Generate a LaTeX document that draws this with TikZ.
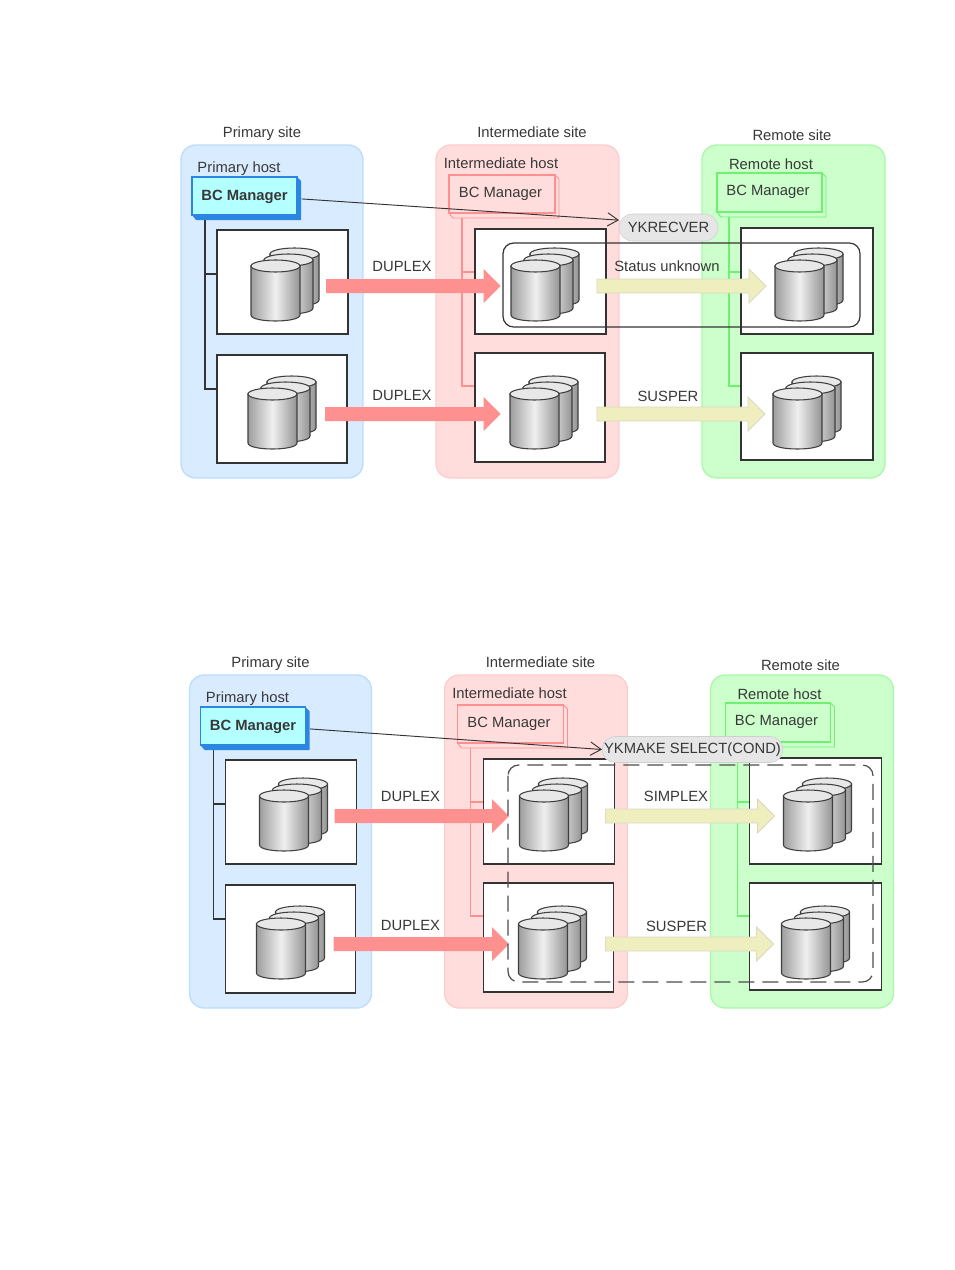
\documentclass[tikz,border=0pt]{standalone}
\usepackage{fontspec}
\setmainfont{Liberation Sans}
\usetikzlibrary{calc,arrows.meta,shapes.misc}
\definecolor{inkc}{HTML}{383838}
\definecolor{linec}{HTML}{333333}
\definecolor{bluefill}{HTML}{D9EBFF}
\definecolor{blueedge}{HTML}{BBDDFF}
\definecolor{redfill}{HTML}{FFDDDD}
\definecolor{rededge}{HTML}{FFCCCC}
\definecolor{greenfill}{HTML}{CCFFCC}
\definecolor{greenedge}{HTML}{AAF8AA}
\definecolor{redline}{HTML}{FF9090}
\definecolor{greenline}{HTML}{70F070}
\definecolor{cyanfill}{HTML}{B4FFFF}
\definecolor{bluebc}{HTML}{2A86E0}
\definecolor{arrowred}{HTML}{FF9090}
\definecolor{arrowyel}{HTML}{EEEEBE}
\definecolor{arrowyeledge}{HTML}{D9D9C4}
\definecolor{pillfill}{HTML}{E6E6E6}
\tikzset{
  x=0.75pt,y=-0.75pt,
  txt/.style={font=\fontsize{11.1}{13}\selectfont,text=inkc,inner sep=0pt},
  boldtxt/.style={txt,font=\fontsize{11.1}{13}\selectfont\bfseries},
  region/.style={rounded corners=11pt,line width=1pt,inner sep=0pt,outer sep=0pt},
  hostbox/.style={draw=linec,fill=white,line width=0.9pt,inner sep=0pt,outer sep=0pt},
  bcfront/.style={inner sep=0pt,outer sep=0pt,line width=0.9pt},
  redarrow/.style={fill=arrowred},
  yelarrow/.style={fill=arrowyel,draw=arrowyeledge,line width=0.6pt},
  pillnode/.style={rounded rectangle,fill=pillfill,draw=pillfill!90!black,line width=0.4pt,inner sep=0pt,outer sep=0pt,text=inkc,font=\fontsize{11.1}{13}\selectfont},
  cylside/.style={draw=black!75,line width=0.8pt,left color=black!38,right color=black!42,middle color=black!6},
  cyltop/.style={draw=black!75,line width=0.8pt,fill=black!9},
  callline/.style={draw=linec,line width=0.7pt,-{Straight Barb[length=8pt,width=10pt]}},
}
% name x0 y0 x1 y1 style
\newcommand{\rectnode}[6]{\node[#6,minimum width={(#4-#2)*0.75pt},minimum height={(#5-#3)*0.75pt}] (#1) at ({(#2+#4)/2},{(#3+#5)/2}) {};}
% x0 ytop ybot width
\newcommand{\onecyl}[4]{%
  \path[cylside] (#1,#2) -- (#1,#3) .. controls (#1,#3+8) and (#1+#4,#3+8) .. (#1+#4,#3) -- (#1+#4,#2) -- cycle;
  \path[cyltop] ({#1+#4/2},#2) ellipse [x radius=#4/2,y radius=6];}
% x0 ytop of the front cylinder
\newcommand{\cylstack}[2]{%
  \onecyl{#1+19}{#2-6}{#2+40}{49}
  \onecyl{#1+13}{#2}{#2+48}{49}
  \onecyl{#1}{#2+6}{#2+55}{49}}
% name x0 y0 x1 y1 depthstyle frontstyle
\newcommand{\bcbox}[7]{%
  \path[#6] (#2,#5) -- (#2+4,#5+5) -- (#4+4,#5+5) -- (#4+4,#3+4) -- (#4,#3) -- cycle;
  \rectnode{#1}{#2}{#3}{#4}{#5}{bcfront,#7}}
% name-prefix x0 x1 y style
\newcommand{\blockarrow}[5]{%
  \coordinate (#1s) at (#2,#4);
  \coordinate (#1e) at (#3,#4);
  \path[#5] ($(#1s)+(0,-7)$) -- ($(#1e)+(-17,-7)$) -- ($(#1e)+(-17,-17)$) -- (#1e)
     -- ($(#1e)+(-17,17)$) -- ($(#1e)+(-17,7)$) -- ($(#1s)+(0,7)$) -- cycle;}
% common part of both panels
\newcommand{\panel}[1]{%
  \rectnode{#1rp}{181}{145}{363}{478}{region,fill=bluefill,draw=blueedge}
  \rectnode{#1ri}{436}{145}{619}{478}{region,fill=redfill,draw=rededge}
  \rectnode{#1rr}{702}{145}{885}{478}{region,fill=greenfill,draw=greenedge}
  \node[txt] (#1lp) at (262,133.5) {Primary site};
  \node[txt] (#1li) at (532,132) {Intermediate site};
  \node[txt] (#1lr) at (792,135) {Remote site};
  \node[txt] (#1hp) at (239,168.5) {Primary host};
  \node[txt] (#1hi) at (501,163) {Intermediate host};
  \node[txt] (#1hr) at (771,164) {Remote host};
  % tree anchors
  \coordinate (#1tp) at (205,216);
  \coordinate (#1tp1) at (217,274);
  \coordinate (#1tp2) at (217,389);
  \coordinate (#1ti) at (462,216);
  \coordinate (#1ti1) at (475,272);
  \coordinate (#1ti2) at (475,386);
  \coordinate (#1tr) at (729,215);
  \coordinate (#1tr1) at (741,272);
  \coordinate (#1tr2) at (741,386);
  \draw[linec,line width=0.8pt] (#1tp) |- (#1tp1) (#1tp) |- (#1tp2);
  \draw[redline,line width=0.8pt] (#1ti) |- (#1ti1) (#1ti) |- (#1ti2);
  \draw[greenline,line width=0.8pt] (#1tr) |- (#1tr1) (#1tr) |- (#1tr2);
  % BC Manager
  \bcbox{#1bp}{192}{177}{297}{215}{fill=bluebc}{fill=cyanfill,draw=bluebc}
  \node[boldtxt] at ([yshift=-0.6pt]#1bp) {BC Manager};
  \bcbox{#1bi}{449}{175}{555}{213}{draw=redline,line width=0.7pt,fill=redfill}{draw=redline,fill=redfill}
  \bcbox{#1br}{717}{173}{822}{212}{draw=greenline,line width=0.7pt,fill=greenfill}{draw=greenline,fill=greenfill}
  \node[txt] (#1tbi) at (500.5,193.5) {BC Manager};
  \node[txt] (#1tbr) at (768,192) {BC Manager};
  % storage boxes
  \rectnode{#1s1}{217}{230}{348}{334}{hostbox}
  \rectnode{#1s2}{217}{355}{347}{463}{hostbox}
  \rectnode{#1s3}{475}{229}{606}{334}{hostbox}
  \rectnode{#1s4}{475}{353}{605}{462}{hostbox}
  \rectnode{#1s5}{741}{228}{873}{334}{hostbox}
  \rectnode{#1s6}{741}{353}{873}{460}{hostbox}
  \cylstack{251}{260}
  \cylstack{248}{388}
  \cylstack{511}{260}
  \cylstack{510}{388}
  \cylstack{775}{260}
  \cylstack{773}{388}
  % pair arrows
  \blockarrow{#1a1}{326}{500.5}{286}{redarrow}
  \blockarrow{#1a2}{325}{500.5}{414}{redarrow}
  \blockarrow{#1a3}{597}{766}{286}{yelarrow}
  \blockarrow{#1a4}{597}{765}{414}{yelarrow}
  \node[txt] (#1d1) at (402,266) {DUPLEX};
  \node[txt] (#1d2) at (402,395) {DUPLEX};
  \node[txt] (#1d4) at (668,396) {SUSPER};
}
\begin{document}
\begin{tikzpicture}
\useasboundingbox (0,0) rectangle (954,1270);
\fill[white] (0,0) rectangle (954,1270);
\panel{u}
\node[txt] (ustat) at (667,266) {Status unknown};
\draw[linec,line width=0.9pt,rounded corners=8pt] (503,243) rectangle (860,327);
\node[pillnode,minimum width=99*0.75pt,minimum height=27*0.75pt] (upill) at (668.5,227.5) {YKRECVER};
\draw[callline] ([xshift=3.5pt,yshift=-2.2pt]ubp.east) -- ([yshift=5.5pt]upill.west);
\begin{scope}[shift={(8.5,530)}]
\panel{v}
\node[txt] (vstat) at (667.5,266) {SIMPLEX};
\node[pillnode,minimum width=181*0.75pt,minimum height=26*0.75pt] (vpill) at (684,219.5) {YKMAKE SELECT(COND)};
\draw[callline] ([xshift=3.5pt,yshift=-2.2pt]vbp.east) -- (vpill.west);
\draw[black!70,line width=0.9pt,rounded corners=8pt,dash pattern=on 12pt off 6pt] (499.5,235) rectangle (864.5,452);
\end{scope}
\end{tikzpicture}
\end{document}
